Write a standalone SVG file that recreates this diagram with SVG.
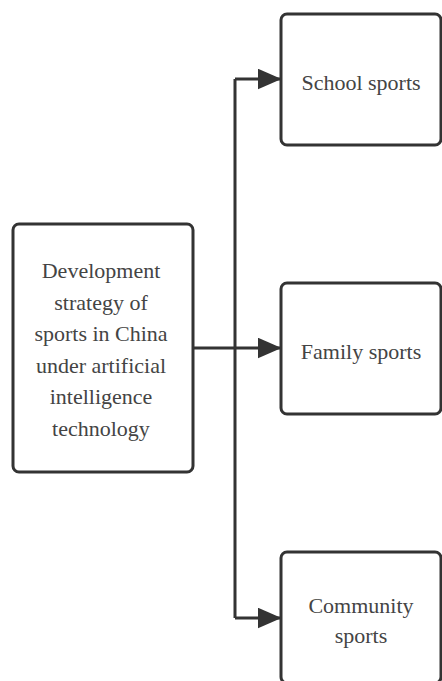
<svg xmlns="http://www.w3.org/2000/svg" width="442" height="681" viewBox="0 0 442 681">
<style>
.box{fill:#fff;stroke:#333;stroke-width:3}
.t{font-size:22px;fill:#444;text-anchor:middle}
.c{fill:none;stroke:#333;stroke-width:3}
</style>
<defs>
<marker id="ah" markerWidth="8" markerHeight="7" refX="7.5" refY="3.5" orient="auto" markerUnits="strokeWidth">
<path d="M0,0 L8,3.5 L0,7 z" fill="#333"/>
</marker>
</defs>
<rect width="442" height="681" fill="#fff"/>
<g id="connectors">
<path class="c" d="M193,348 H235"/>
<path class="c" d="M235,79 V618"/>
<path class="c" d="M235,79 H280" marker-end="url(#ah)"/>
<path class="c" d="M235,348 H280" marker-end="url(#ah)"/>
<path class="c" d="M235,618 H280" marker-end="url(#ah)"/>
</g>
<g font-family="Liberation Serif, DejaVu Serif, serif">
<g id="main">
<rect class="box" x="13" y="224" width="180" height="248" rx="6"/>
<text class="t" x="101" y="278">Development</text>
<text class="t" x="101" y="309.6">strategy of</text>
<text class="t" x="101" y="341.2">sports in China</text>
<text class="t" x="101" y="372.8">under artificial</text>
<text class="t" x="101" y="404.4">intelligence</text>
<text class="t" x="101" y="436">technology</text>
</g>
<g id="school">
<rect class="box" x="281" y="14" width="160" height="131" rx="6"/>
<text class="t" x="361" y="90">School sports</text>
</g>
<g id="family">
<rect class="box" x="281" y="283" width="160" height="131" rx="6"/>
<text class="t" x="361" y="359">Family sports</text>
</g>
<g id="community">
<rect class="box" x="281" y="552" width="160" height="131" rx="6"/>
<text class="t" x="361" y="613">Community</text>
<text class="t" x="361" y="643">sports</text>
</g>
</g>
</svg>
